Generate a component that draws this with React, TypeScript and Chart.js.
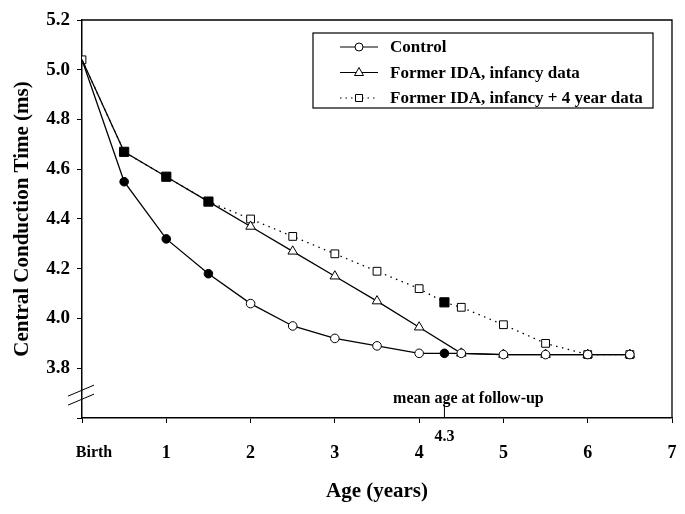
import React, { useEffect, useRef } from 'react';
import { Chart, registerables } from 'chart.js';

Chart.register(...registerables);

const FONT = '"Liberation Serif", "Times New Roman", serif';

const controlAges = [0, 0.5, 1, 1.5, 2, 2.5, 3, 3.5, 4, 4.3, 4.5, 5, 5.5, 6, 6.5];
const controlValues = [5.04, 4.55, 4.32, 4.18, 4.06, 3.97, 3.92, 3.89, 3.86, 3.86, 3.86, 3.855, 3.855, 3.855, 3.855];
const controlFilled = [false, true, true, true, false, false, false, false, false, true, false, false, false, false, false];
const controlShown = [false, true, true, true, true, true, true, true, true, true, true, true, true, true, true];

const infancyAges = [0, 0.5, 1, 1.5, 2, 2.5, 3, 3.5, 4, 4.5, 5, 5.5, 6, 6.5];
const infancyValues = [5.04, 4.67, 4.57, 4.47, 4.37, 4.27, 4.17, 4.07, 3.965, 3.86, 3.855, 3.855, 3.855, 3.855];
const infancyShown = [false, false, false, false, true, true, true, true, true, true, true, true, true, true];

const fourYearAges = [0, 0.5, 1, 1.5, 2, 2.5, 3, 3.5, 4, 4.3, 4.5, 5, 5.5, 6, 6.5];
const fourYearValues = [5.04, 4.67, 4.57, 4.47, 4.4, 4.33, 4.26, 4.19, 4.12, 4.065, 4.045, 3.975, 3.9, 3.855, 3.855];
const fourYearFilled = [false, true, true, true, false, false, false, false, false, true, false, false, false, false, false];

const xTickValues = [0, 1, 2, 3, 4, 5, 6, 7];
const xTickLabels = ['Birth', '1', '2', '3', '4', '5', '6', '7'];
const yMin = 3.6;
const yMax = 5.2;
const yStep = 0.2;

const followUpAge = 4.3;
const followUpLabel = '4.3';
const followUpText = 'mean age at follow-up';

const legendLabels = ['Control', 'Former IDA, infancy data', 'Former IDA, infancy + 4 year data'];
const legendStyles = ['circle', 'triangle', 'rect'];
const legendDashed = [false, false, true];

function drawMarker(ctx: CanvasRenderingContext2D, style: string, x: number, y: number) {
  ctx.beginPath();
  if (style === 'circle') {
    ctx.arc(x, y, 4, 0, Math.PI * 2);
  } else if (style === 'triangle') {
    ctx.moveTo(x, y - 5);
    ctx.lineTo(x + 4.5, y + 3);
    ctx.lineTo(x - 4.5, y + 3);
    ctx.closePath();
  } else {
    ctx.rect(x - 3.5, y - 3.5, 7, 7);
  }
  ctx.fillStyle = '#fff';
  ctx.fill();
  ctx.stroke();
}

const overlayPlugin = {
  id: 'overlay',
  afterDraw(chart: any) {
    const { ctx, chartArea: a, scales } = chart;
    const x = scales.x;
    const y = scales.y;
    ctx.save();
    ctx.strokeStyle = '#000';
    ctx.fillStyle = '#000';
    ctx.lineWidth = 1.3;
    // frame top & right
    ctx.beginPath();
    ctx.moveTo(a.left, a.top);
    ctx.lineTo(a.right, a.top);
    ctx.lineTo(a.right, a.bottom);
    ctx.stroke();

    // axis break marks
    const by = y.getPixelForValue(3.7);
    ctx.lineWidth = 1;
    ctx.beginPath();
    ctx.moveTo(a.left - 14, by + 3);
    ctx.lineTo(a.left + 12, by - 8);
    ctx.moveTo(a.left - 14, by + 12);
    ctx.lineTo(a.left + 12, by + 1);
    ctx.stroke();

    // follow-up marker
    const fx = x.getPixelForValue(followUpAge);
    ctx.lineWidth = 1;
    ctx.beginPath();
    ctx.moveTo(fx, a.bottom);
    ctx.lineTo(fx, a.bottom - 13);
    ctx.stroke();
    ctx.textAlign = 'center';
    ctx.textBaseline = 'middle';
    ctx.font = 'bold 16px ' + FONT;
    ctx.fillText(followUpLabel, fx, a.bottom + 19);
    ctx.font = 'bold 16px ' + FONT;
    ctx.fillText(followUpText, fx + 24, a.bottom - 19);

    // legend
    const lx = a.right - 359;
    const ly = a.top + 13;
    const lw = 340;
    const lh = 75;
    ctx.lineWidth = 1.2;
    ctx.strokeRect(lx, ly, lw, lh);
    ctx.font = 'bold 17px ' + FONT;
    ctx.textAlign = 'left';
    legendLabels.forEach((label, i) => {
      const ry = ly + 14 + i * 25.5;
      ctx.strokeStyle = '#000';
      ctx.lineWidth = 1.2;
      ctx.setLineDash(legendDashed[i] ? [1.5, 4] : []);
      ctx.beginPath();
      ctx.moveTo(lx + 27, ry);
      ctx.lineTo(lx + 65, ry);
      ctx.stroke();
      ctx.setLineDash([]);
      ctx.lineWidth = 1;
      drawMarker(ctx, legendStyles[i], lx + 46, ry);
      ctx.fillStyle = '#000';
      ctx.fillText(label, lx + 77, ry + 1);
    });
    ctx.restore();
  },
};

function pts(xs: number[], ys: number[]) {
  return xs.map((v, i) => ({ x: v, y: ys[i] }));
}

export default function App() {
  const ref = useRef<HTMLCanvasElement>(null);
  useEffect(() => {
    document.body.style.margin = '0';
    const canvas = ref.current!;
    const chart = new Chart(canvas, {
      type: 'line',
      data: {
        datasets: [
          {
            label: legendLabels[0],
            data: pts(controlAges, controlValues),
            borderColor: '#000',
            borderWidth: 1.3,
            pointStyle: 'circle',
            pointRadius: controlShown.map((s) => (s ? 4.3 : 0)),
            pointBorderWidth: 1,
            pointBorderColor: '#000',
            pointBackgroundColor: controlFilled.map((f) => (f ? '#000' : '#fff')),
            tension: 0,
          },
          {
            label: legendLabels[1],
            data: pts(infancyAges, infancyValues),
            borderColor: '#000',
            borderWidth: 1.3,
            pointStyle: 'triangle',
            pointRadius: infancyShown.map((s) => (s ? 5.5 : 0)),
            pointBorderWidth: 1,
            pointBorderColor: '#000',
            pointBackgroundColor: '#fff',
            tension: 0,
          },
          {
            label: legendLabels[2],
            data: pts(fourYearAges, fourYearValues),
            borderColor: '#000',
            borderWidth: 1.3,
            borderDash: [1.5, 4.5],
            pointStyle: 'rect',
            pointRadius: fourYearFilled.map((f) => (f ? 6.5 : 5.5)),
            pointBorderWidth: 1,
            pointBorderColor: '#000',
            pointBackgroundColor: fourYearFilled.map((f) => (f ? '#000' : '#fff')),
            tension: 0,
          },
        ],
      },
      options: {
        responsive: false,
        animation: false,
        devicePixelRatio: 1,
        layout: { padding: { left: 0, top: 20, right: 13, bottom: 0 } },
        plugins: { legend: { display: false }, tooltip: { enabled: false } },
        scales: {
          x: {
            type: 'linear',
            min: 0,
            max: 7,
            afterBuildTicks: (scale: any) => {
              scale.ticks = xTickValues.map((v) => ({ value: v }));
            },
            afterFit: (scale: any) => {
              scale.height = 96;
              scale.paddingRight = 0;
            },
            ticks: {
              color: '#000',
              padding: 20,
              maxRotation: 0,
              autoSkip: false,
              font: (c: any) => ({
                family: FONT,
                weight: 'bold',
                size: c.tick && c.tick.value === 0 ? 16 : 18,
              }),
              callback: (v: any) => {
                const i = xTickValues.indexOf(Number(v));
                return i === 0 ? '      ' + xTickLabels[0] : i >= 0 ? xTickLabels[i] : '';
              },
            },
            grid: { drawOnChartArea: false, drawTicks: true, tickLength: 5, color: '#000', lineWidth: 1 },
            border: { display: true, color: '#000', width: 1.5 },
            title: {
              display: true,
              text: 'Age (years)',
              color: '#000',
              font: { family: FONT, weight: 'bold', size: 21 },
              padding: { top: 0, bottom: 10 },
            },
          },
          y: {
            type: 'linear',
            min: yMin,
            max: yMax,
            afterFit: (scale: any) => {
              scale.width = 82;
            },
            ticks: {
              stepSize: yStep,
              color: '#000',
              padding: 7,
              font: { family: FONT, weight: 'bold', size: 19 },
              callback: (v: any) => (Math.abs(Number(v) - yMin) < 1e-6 ? '' : Number(v).toFixed(1)),
            },
            grid: { drawOnChartArea: false, drawTicks: true, tickLength: 5, color: '#000', lineWidth: 1 },
            border: { display: true, color: '#000', width: 1.5 },
            title: {
              display: true,
              text: 'Central Conduction Time (ms)',
              color: '#000',
              font: { family: FONT, weight: 'bold', size: 21 },
              padding: { top: 10, bottom: 0 },
            },
          },
        },
      },
      plugins: [overlayPlugin],
    } as any);
    return () => chart.destroy();
  }, []);
  return <canvas ref={ref} width={685} height={514} style={{ display: 'block', width: 685, height: 514 }} />;
}
